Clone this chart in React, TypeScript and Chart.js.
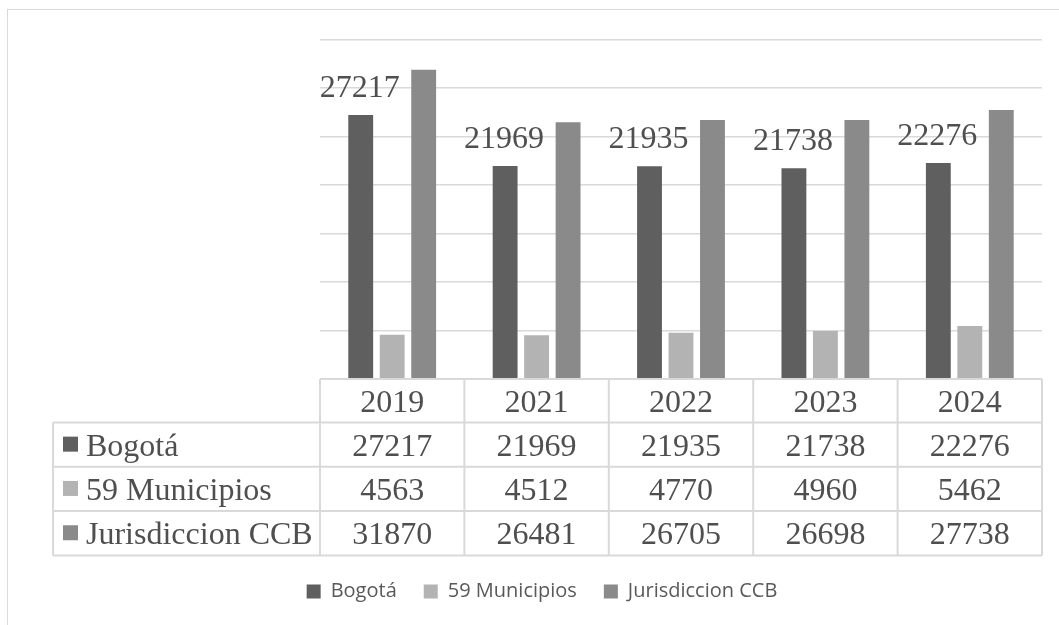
import React, { useEffect, useRef } from "react";
import { Chart, registerables } from "chart.js";

Chart.register(...registerables);

const years = ["2019", "2021", "2022", "2023", "2024"];
const bogota = [27217, 21969, 21935, 21738, 22276];
const municipios = [4563, 4512, 4770, 4960, 5462];
const jurisdiccion = [31870, 26481, 26705, 26698, 27738];
const seriesNames = ["Bogotá", "59 Municipios", "Jurisdiccion CCB"];
const seriesColors = ["#5f5f5f", "#b3b3b3", "#8a8a8a"];
const yMax = 35000;
const yStep = 5000;

const SERIF = "'Liberation Serif', 'Times New Roman', serif";
const TEXT = "#4f4f4f";
const LINE = "#d9d9d9";

const dataTablePlugin = {
  id: "dataTable",
  afterDraw(chart: any) {
    const { ctx, chartArea, scales } = chart;
    const x = scales.x;
    const labels: string[] = chart.data.labels;
    const n = labels.length;
    const colW = (x.right - x.left) / n;
    const tableLeft = 45;
    const headerTop = chartArea.bottom;
    const headerH = 43.5;
    const rowH = 44.3;
    const datasets = chart.data.datasets;
    const tableBottom = headerTop + headerH + rowH * datasets.length;

    ctx.save();
    ctx.strokeStyle = LINE;
    ctx.lineWidth = 2;
    ctx.beginPath();
    ctx.moveTo(x.left, headerTop);
    ctx.lineTo(x.right, headerTop);
    for (let r = 0; r <= datasets.length; r++) {
      const yy = headerTop + headerH + r * rowH;
      ctx.moveTo(tableLeft, yy);
      ctx.lineTo(x.right, yy);
    }
    for (let i = 0; i <= n; i++) {
      const xx = x.left + i * colW;
      ctx.moveTo(xx, headerTop);
      ctx.lineTo(xx, tableBottom);
    }
    ctx.moveTo(tableLeft, headerTop + headerH);
    ctx.lineTo(tableLeft, tableBottom);
    ctx.stroke();

    ctx.font = `32px ${SERIF}`;
    ctx.fillStyle = TEXT;
    ctx.textAlign = "center";
    ctx.textBaseline = "alphabetic";
    labels.forEach((lab, i) => {
      const cx = x.getPixelForValue(i);
      ctx.fillText(lab, cx, headerTop + headerH / 2 + 11);
    });
    datasets.forEach((ds: any, r: number) => {
      const top = headerTop + headerH + r * rowH;
      const cy = top + rowH / 2;
      ctx.fillStyle = ds.backgroundColor;
      ctx.fillRect(55, cy - 8, 15, 15);
      ctx.fillStyle = TEXT;
      ctx.textAlign = "left";
      ctx.fillText(ds.label, 78, cy + 11);
      ctx.textAlign = "center";
      ds.data.forEach((v: number, i: number) => {
        const cx = x.getPixelForValue(i);
        ctx.fillText(String(v), cx, cy + 11);
      });
    });
    ctx.restore();
  },
};

const barLabelPlugin = {
  id: "barLabels",
  afterDatasetsDraw(chart: any) {
    const { ctx } = chart;
    const meta = chart.getDatasetMeta(0);
    const ds = chart.data.datasets[0];
    ctx.save();
    ctx.font = `32px ${SERIF}`;
    ctx.fillStyle = TEXT;
    ctx.textAlign = "center";
    ctx.textBaseline = "alphabetic";
    meta.data.forEach((bar: any, i: number) => {
      ctx.fillText(String(ds.data[i]), bar.x - 1, bar.y - 18);
    });
    ctx.restore();
  },
};

export default function App() {
  const canvasRef = useRef<HTMLCanvasElement | null>(null);

  useEffect(() => {
    const canvas = canvasRef.current;
    if (!canvas) return;
    const chart = new Chart(canvas, {
      type: "bar",
      data: {
        labels: years,
        datasets: [
          { label: seriesNames[0], data: bogota, backgroundColor: seriesColors[0] },
          { label: seriesNames[1], data: municipios, backgroundColor: seriesColors[1] },
          { label: seriesNames[2], data: jurisdiccion, backgroundColor: seriesColors[2] },
        ],
      },
      options: {
        responsive: false,
        animation: false,
        devicePixelRatio: 1,
        layout: { padding: { left: 34, right: 17, top: 29.5, bottom: 13.5 } },
        datasets: {
          bar: { categoryPercentage: 0.654, barPercentage: 0.79, borderWidth: 0 },
        },
        scales: {
          x: {
            ticks: { display: false },
            grid: { display: false },
            border: { display: false },
            afterFit: (s: any) => {
              s.height = 175.5;
            },
          },
          y: {
            min: 0,
            max: yMax,
            ticks: { display: false, stepSize: yStep },
            grid: { color: LINE, lineWidth: 1.5, drawTicks: false },
            border: { display: false },
            afterFit: (s: any) => {
              s.width = 278;
            },
          },
        },
        plugins: {
          tooltip: { enabled: false },
          legend: {
            position: "bottom",
            labels: {
              boxWidth: 14,
              boxHeight: 14,
              padding: 27,
              color: "#595959",
              font: { family: "'Open Sans', sans-serif", size: 20 },
            },
          },
        },
      },
      plugins: [barLabelPlugin, dataTablePlugin],
    } as any);
    return () => chart.destroy();
  }, []);

  return (
    <div
      style={{
        position: "absolute",
        left: 7,
        top: 9,
        width: 1052,
        height: 616,
        boxSizing: "border-box",
        borderTop: `1px solid ${LINE}`,
        borderLeft: `1px solid ${LINE}`,
        overflow: "hidden",
        background: "#fff",
      }}
    >
      <canvas ref={canvasRef} width={1051} height={615} style={{ display: "block" }} />
    </div>
  );
}
